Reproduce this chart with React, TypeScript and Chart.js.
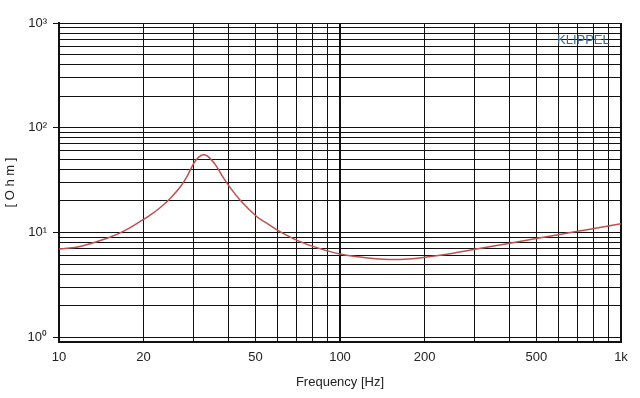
import React, { useEffect, useRef } from "react";
import { Chart, registerables } from "chart.js";

Chart.register(...registerables);

const freqHz = [10, 12, 15, 17, 19.4, 21, 23, 25, 27, 28.5, 30, 31, 32, 32.9, 33.8, 34.8, 36.4, 38, 40, 44, 50.5, 55, 61.1, 72.1, 85, 100, 120, 142.6, 170, 200, 250, 302, 402, 505, 692, 850, 1000];
const impedanceOhm = [6.95, 7.4, 8.9, 10.3, 12.7, 14.5, 17.4, 21.5, 27.2, 34, 44.5, 50.5, 54.3, 55.2, 53.5, 49.5, 42.6, 35, 28.5, 20.5, 14.2, 12.2, 10.2, 8.17, 7.0, 6.23, 5.8, 5.54, 5.55, 5.79, 6.3, 6.9, 7.88, 8.8, 10.2, 11.2, 12.1];

const xTickValues = [10, 20, 30, 40, 50, 60, 70, 80, 90, 100, 200, 300, 400, 500, 600, 700, 800, 900, 1000];
const xTickLabels: Record<number, string> = { 10: "10", 20: "20", 50: "50", 100: "100", 200: "200", 500: "500", 1000: "1k" };
const yTickValues = [1, 2, 3, 4, 5, 6, 7, 8, 9, 10, 20, 30, 40, 50, 60, 70, 80, 90, 100, 200, 300, 400, 500, 600, 700, 800, 900, 1000];
const yTickLabels: Record<number, string> = { 1: "10\u2070", 10: "10\u00B9", 100: "10\u00B2", 1000: "10\u00B3" };

const FONT = "'Liberation Sans', Arial, sans-serif";

const brandPlugin = {
  id: "brand",
  afterDraw(chart: any) {
    const { ctx } = chart;
    ctx.save();
    ctx.font = `13px ${FONT}`;
    ctx.fillStyle = "#3f6590";
    ctx.textAlign = "left";
    ctx.textBaseline = "middle";
    ctx.fillText("KLIPPEL", 557, 40);
    ctx.restore();
  },
};

export default function App() {
  const ref = useRef<HTMLCanvasElement | null>(null);
  useEffect(() => {
    if (!ref.current) return;
    const chart = new Chart(ref.current, {
      type: "line",
      data: {
        datasets: [
          {
            data: freqHz.map((f, i) => ({ x: f, y: impedanceOhm[i] })),
            borderColor: "#c0504f",
            borderWidth: 1.5,
            pointRadius: 0,
            tension: 0.4,
            fill: false,
          },
        ],
      },
      options: {
        animation: false,
        responsive: false,
        layout: { padding: { left: 0, top: 23, right: 19, bottom: 0 } },
        plugins: { legend: { display: false }, tooltip: { enabled: false } },
        scales: {
          x: {
            type: "logarithmic",
            min: 10,
            max: 1000,
            afterBuildTicks: (scale: any) => {
              scale.ticks = xTickValues.map((v) => ({ value: v }));
            },
            afterFit: (scale: any) => {
              scale.height = 56;
            },
            ticks: {
              autoSkip: false,
              maxRotation: 0,
              padding: 8,
              color: "#222",
              font: { family: FONT, size: 13 },
              callback: (v: any) => xTickLabels[Number(v)] ?? "",
            },
            grid: {
              drawTicks: false,
              color: "#111",
              lineWidth: (c: any) => (c.tick && [10, 100, 1000].includes(c.tick.value) ? 2 : 1),
            },
            border: { color: "#111", width: 2 },
            title: {
              display: true,
              text: "Frequency [Hz]",
              color: "#222",
              font: { family: FONT, size: 13 },
              padding: { top: 4, bottom: 8 },
            },
          },
          y: {
            type: "logarithmic",
            min: 0.9,
            max: 1000,
            afterBuildTicks: (scale: any) => {
              scale.ticks = yTickValues.map((v) => ({ value: v }));
            },
            afterFit: (scale: any) => {
              scale.width = 59;
            },
            ticks: {
              autoSkip: false,
              padding: 6,
              color: "#222",
              font: { family: FONT, size: 13 },
              callback: (v: any) => yTickLabels[Number(v)] ?? "",
            },
            grid: {
              drawTicks: true,
              tickLength: 6,
              color: "#111",
              lineWidth: 1,
              tickColor: (c: any) => (c.tick && yTickLabels[c.tick.value] ? "#111" : "rgba(0,0,0,0)"),
            },
            border: { color: "#111", width: 2 },
            title: {
              display: true,
              text: "[ O h m ]",
              color: "#222",
              font: { family: FONT, size: 13 },
              padding: { top: 3, bottom: 4 },
            },
          },
        },
      },
      plugins: [brandPlugin],
    } as any);
    return () => chart.destroy();
  }, []);
  return (
    <div style={{ position: "fixed", left: 0, top: 0, width: 640, height: 398, background: "#fff" }}>
      <canvas ref={ref} width={640} height={398} style={{ display: "block" }} />
    </div>
  );
}
